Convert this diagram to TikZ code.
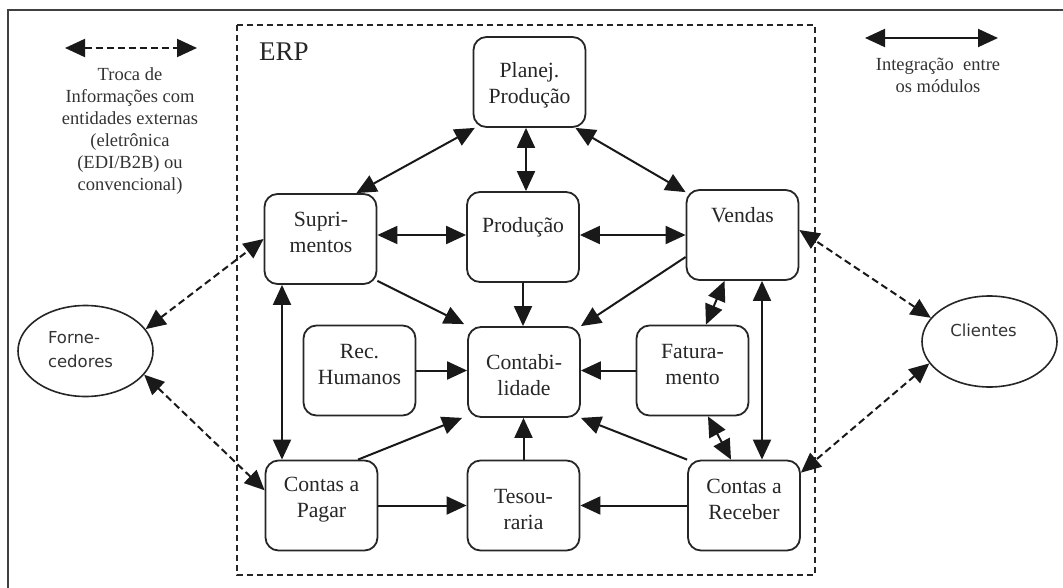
\documentclass[tikz,border=0pt]{standalone}
\usepackage{fontspec}
\setmainfont{Liberation Serif}
\newfontfamily\labelsans{DejaVu Sans}
\usetikzlibrary{arrows.meta,shapes.geometric,calc}

\begin{document}
\begin{tikzpicture}[x=1pt,y=-1pt,
  >={Triangle[length=20pt,width=18pt]},
  module/.style={draw=black!85,line width=1.8pt,rounded corners=13pt,
    minimum width=112pt,minimum height=90pt,inner sep=0pt},
  entity/.style={draw=black!85,line width=1.6pt,ellipse,
    minimum width=135pt,minimum height=91pt,inner sep=0pt},
  modtext/.style={align=center,text=black!85,inner sep=0pt,
    font=\fontsize{21.7}{26}\selectfont},
  enttext/.style={align=left,text=black!80,inner sep=0pt,
    font=\labelsans\fontsize{16.5}{24}\selectfont},
  legtext/.style={align=center,text=black!80,inner sep=0pt,
    font=\fontsize{18.5}{22}\selectfont},
  conn/.style={line width=2pt,draw=black!90,<->},
  flow/.style={line width=2pt,draw=black!90,->},
  ext/.style={line width=2pt,draw=black!90,<->,dash pattern=on 7pt off 4pt},
  erpframe/.style={line width=1.6pt,draw=black!85,dash pattern=on 6pt off 4pt}
]
\useasboundingbox (0,0) rectangle (1063,588);

% outer frame (left and top edges)
\draw[line width=2.6pt,black!75] (8,620) -- (8,10) -- (1090,10);

% ERP boundary
\draw[erpframe] (237,25) rectangle (815,575);
\node[anchor=west,inner sep=0pt,font=\fontsize{27}{30}\selectfont,text=black!85] (erplabel) at (259,52) {ERP};

% legend: external exchange
\coordinate (extL) at (65,48);
\coordinate (extR) at (197,48);
\draw[ext] (extL) -- (extR);
\node[legtext] (extlegend) at (130,131) {Troca de\\Informações com\\entidades externas\\(eletrônica\\(EDI/B2B) ou\\convencional)};

% legend: integration between modules
\coordinate (intL) at (865,38);
\coordinate (intR) at (998,38);
\draw[conn] (intL) -- (intR);
\node[legtext] (intlegend) at (938,75) {Integração\ \ entre\\os módulos};

% modules
\node[module] (pp)   at (529.5,82)  {};
\node[module] (sup)  at (320.5,239) {};
\node[module] (prod) at (523,237)   {};
\node[module] (ven)  at (742.5,235) {};
\node[module] (rec)  at (359.5,370.5) {};
\node[module] (cont) at (524,372)   {};
\node[module] (fat)  at (692.5,370.5) {};
\node[module] (cp)   at (321.5,505.5) {};
\node[module] (tes)  at (523.5,505.5) {};
\node[module] (cr)   at (744,505.5) {};

\node[modtext] (pp-t)   at (529.5,85)   {Planej.\\Produção};
\node[modtext] (sup-t)  at (321,232.5)  {Supri-\\mentos};
\node[modtext] (prod-t) at (523,227)    {Produção};
\node[modtext] (ven-t)  at (742.5,215)  {Vendas};
\node[modtext] (rec-t)  at (359.5,364.5) {Rec.\\Humanos};
\node[modtext] (cont-t) at (524,375)    {Contabi-\\lidade};
\node[modtext] (fat-t)  at (692.5,364.5) {Fatura-\\mento};
\node[modtext] (cp-t)   at (321.5,499.5) {Contas a\\Pagar};
\node[modtext] (tes-t)  at (523.5,509.5) {Tesou-\\raria};
\node[modtext] (cr-t)   at (744,499.5)  {Contas a\\Receber};

% external entities
\node[entity] (forn) at (85.5,351)  {};
\node[entity] (cli)  at (989.5,341.5) {};
\node[enttext] (forn-t) at (80.5,350) {Forne-\\cedores};
\node[enttext] (cli-t)  at (983.5,330) {Clientes};

% exchanges with external entities
\draw[ext] (forn.20) -- (sup.west);
\draw[ext] (forn.-22) -- (cp.165);
\draw[ext] (cli.158) -- (ven.5);
\draw[ext] (cli.200) -- (cr.30);

% integration between modules
\draw[conn] (pp.220) -- (sup.52);
\draw[conn] (pp.-45) -- (ven.143);
\draw[conn] ([xshift=-3.5pt]pp.south) -- ([xshift=3pt]prod.north);
\draw[conn] ([yshift=4pt]sup.east) -- ([yshift=2pt]prod.west);
\draw[conn] ([yshift=2pt]prod.east) -- (ven.west);
\draw[conn] ([xshift=-18pt]ven.south) -- ([xshift=13.5pt]fat.north);
\draw[conn] ([xshift=19.5pt]ven.south) -- ([xshift=18pt]cr.north);
\draw[conn] ([xshift=15.5pt]fat.south) -- ([xshift=-13pt]cr.north);
\draw[conn] ([xshift=-38.5pt]sup.south) -- ([xshift=-39.5pt]cp.north);

% flows into accounting and treasury
\draw[flow] ([yshift=4pt]sup.south east) -- ([xshift=-3pt,yshift=2pt]cont.north west);
\draw[flow] (prod.south) -- (prod.south |- cont.north);
\draw[flow] ([yshift=-22pt]ven.west) -- (cont.north east);
\draw[flow] (rec.east) -- (rec.east -| cont.west);
\draw[flow] (fat.west) -- (fat.west -| cont.east);
\draw[flow] ([xshift=36.5pt]cp.north) -- ([xshift=-5pt]cont.south west);
\draw[flow] (tes.north) -- (tes.north |- cont.south);
\draw[flow] (cr.north west) -- (cont.south east);
\draw[flow] (cp.east) -- (tes.west);
\draw[flow] (cr.west) -- (tes.east);
\end{tikzpicture}
\end{document}
